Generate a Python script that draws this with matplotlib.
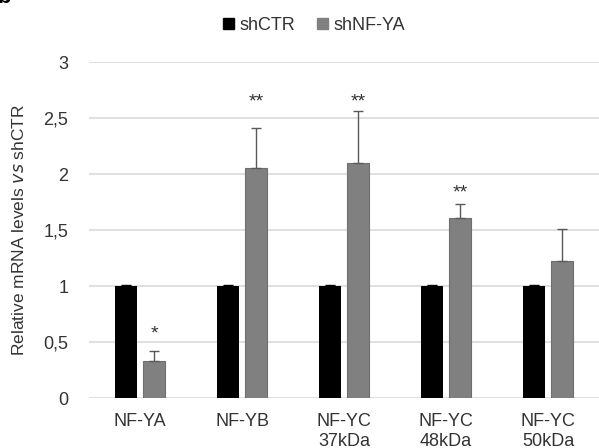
import numpy as np
from matplotlib import pyplot as plt
from matplotlib.patches import Patch

plt.rcParams['font.family'] = ['Liberation Sans', 'DejaVu Sans']

categories = ['NF-YA', 'NF-YB', 'NF-YC\n37kDa', 'NF-YC\n48kDa', 'NF-YC\n50kDa']
shCTR = [1.0, 1.0, 1.0, 1.0, 1.0]
shCTR_err = [0.005, 0.005, 0.005, 0.005, 0.005]
shNFYA = [0.33, 2.05, 2.10, 1.61, 1.22]
shNFYA_err = [0.09, 0.36, 0.46, 0.12, 0.29]
signif = ['*', '**', '**', '**', '']
signif_y = [0.53, 2.60, 2.60, 1.79, 0]
yticks = [0, 0.5, 1, 1.5, 2, 2.5, 3]
yticklabels = ['0', '0,5', '1', '1,5', '2', '2,5', '3']

fig = plt.figure(figsize=(5.99, 4.48), dpi=100)
ax = fig.add_axes([0.1486, 0.1116, 0.8514, 0.75])

x = np.arange(len(categories))
w = 0.215
off = 0.137
ax.bar(x - off, shCTR, w, color='black', zorder=3,
       yerr=[np.zeros(5), shCTR_err], error_kw=dict(ecolor='black', capsize=3.5, elinewidth=1, capthick=1, zorder=4))
ax.bar(x + off, shNFYA, w, color='#808080', edgecolor='#6e6e6e', linewidth=0.8, zorder=3,
       yerr=[np.zeros(5), shNFYA_err], error_kw=dict(ecolor='#595959', capsize=3.5, elinewidth=1, capthick=1, zorder=4))

for xi, s, sy in zip(x, signif, signif_y):
    if s:
        ax.text(xi + off, sy, s, ha='center', va='baseline', fontsize=14, color='#333333')

ax.set_xlim(-0.5, 4.5)
ax.set_ylim(0, 3)
ax.set_yticks(yticks)
ax.set_yticklabels(yticklabels, fontsize=13, color='#333333')
ax.set_xticks(x)
ax.set_xticklabels(categories, fontsize=13, color='#333333')
ax.tick_params(axis='both', length=0)
ax.tick_params(axis='y', pad=15)
ax.tick_params(axis='x', pad=11)
ax.yaxis.grid(True, color='#d9d9d9', linewidth=1.2, zorder=0)
ax.set_axisbelow(True)
for sp in ax.spines.values():
    sp.set_visible(False)

ax.set_ylabel(r'Relative mRNA levels $\it{vs}$ shCTR', fontsize=12.5, color='#333333', labelpad=12)

handles = [Patch(color='black', label='shCTR'), Patch(color='#808080', label='shNF-YA')]
fig.legend(handles=handles, loc='center', bbox_to_anchor=(0.524, 0.943), ncol=2, frameon=False,
           fontsize=13, handlelength=0.6, handleheight=0.6, handletextpad=0.3, columnspacing=1.2,
           labelcolor='#333333')

fig.text(-0.004, 1.005, 'b', fontsize=16, fontweight='bold', va='center', ha='left')

fig.savefig('out.png', dpi=100)
